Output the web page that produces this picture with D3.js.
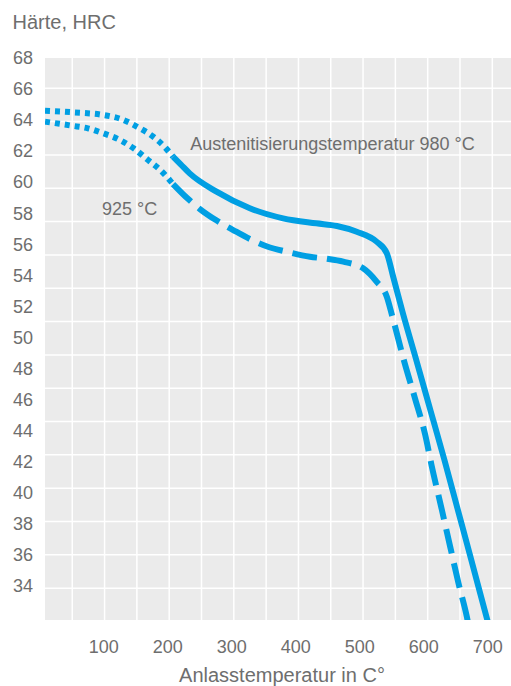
<!DOCTYPE html>
<html>
<head>
<meta charset="utf-8">
<script src="https://cdn.jsdelivr.net/npm/d3@7"></script>
<style>
  body { margin: 0; background: #fff; }
</style>
</head>
<body>
<div id="chart"></div>
<script>
// Anlasstemperatur (°C) und Härte (HRC)
const temps980 = [9, 53, 100, 129, 153, 178, 198, 209, 221, 235, 277, 329, 381, 433, 465, 496, 527, 543, 553, 568, 589, 611, 633, 654, 675, 700, 706];
const hrc980   = [64.6, 64.5, 64.33, 64.05, 63.57, 62.93, 62.18, 61.64, 61.15, 60.57, 59.39, 58.32, 57.67, 57.35, 57.18, 56.81, 56.17, 55.42, 53.9, 51.57, 48.55, 45.33, 42.11, 38.89, 35.67, 31.8, 30.9];
const temps925 = [9, 51, 76, 100, 126, 148, 170, 189, 209, 231, 251, 276, 303, 329, 356, 387, 423, 449, 475, 506, 527, 543, 551, 571, 587, 603, 613, 629, 642, 655, 668, 672];
const hrc925   = [63.9, 63.64, 63.47, 63.15, 62.72, 62.17, 61.43, 60.79, 59.88, 58.98, 58.27, 57.56, 56.92, 56.34, 55.86, 55.52, 55.2, 55.07, 54.88, 54.45, 53.59, 52.62, 51.45, 48.33, 46.08, 43.72, 41.75, 38.89, 36.52, 34.16, 32.01, 31.2];
// ab hier durchgezogen bzw. gestrichelt
const dottedUntil980 = 209;
const dottedUntil925 = 209;

const xTicks = [100, 200, 300, 400, 500, 600, 700];
const yTicks = [68, 66, 64, 62, 60, 58, 56, 54, 52, 50, 48, 46, 44, 42, 40, 38, 36, 34];

const width = 466;
const height = 562;
const margin = { top: 58, right: 0, bottom: 66, left: 45 };
const blue = "#009fe3";
const textColor = "#6e6e6e";
const font = "'Liberation Sans', Arial, sans-serif";

const svg = d3.select("#chart")
    .append("svg")
    .attr("width", width + margin.left + margin.right)
    .attr("height", height + margin.top + margin.bottom)
    .style("font-family", font);

const g = svg.append("g")
    .attr("transform", `translate(${margin.left},${margin.top})`);

const xScale = d3.scaleLinear().domain([9, 737]).range([0, width]);
const yScale = d3.scaleLinear().domain([31.8, 68]).range([height, 0]);

g.append("rect")
    .attr("width", width)
    .attr("height", height)
    .attr("fill", "#ebebeb");

// das Raster liegt nicht genau auf den Achsenwerten
const gridX = d3.range(14).map(i => 51.6 + i * (707.8 - 51.6) / 13);
const gridY = d3.range(16).map(i => 66.05 - i * (66.05 - 33.85) / 15);

g.selectAll(".vgrid")
    .data(gridX)
    .enter()
    .append("line")
    .attr("x1", d => xScale(d))
    .attr("x2", d => xScale(d))
    .attr("y1", 0)
    .attr("y2", height)
    .attr("stroke", "#fff")
    .attr("stroke-width", 1.5);

g.selectAll(".hgrid")
    .data(gridY)
    .enter()
    .append("line")
    .attr("x1", 0)
    .attr("x2", width)
    .attr("y1", d => yScale(d))
    .attr("y2", d => yScale(d))
    .attr("stroke", "#fff")
    .attr("stroke-width", 1.5);

svg.append("clipPath")
    .attr("id", "plot-clip")
    .append("rect")
    .attr("width", width)
    .attr("height", height);

const line = d3.line()
    .x(d => xScale(d[0]))
    .y(d => yScale(d[1]))
    .curve(d3.curveMonotoneX);

function drawSeries(temps, hrc, split, dash) {
    const pts = temps.map((t, i) => [t, hrc[i]]);
    const head = pts.filter(d => d[0] <= split);
    const tail = pts.filter(d => d[0] >= split);
    const lines = g.append("g").attr("clip-path", "url(#plot-clip)");
    lines.append("path")
        .attr("d", line(head))
        .attr("fill", "none")
        .attr("stroke", blue)
        .attr("stroke-width", 6)
        .attr("stroke-dasharray", "5,5");
    lines.append("path")
        .attr("d", line(tail))
        .attr("fill", "none")
        .attr("stroke", blue)
        .attr("stroke-width", 6)
        .attr("stroke-dasharray", dash);
}

drawSeries(temps925, hrc925, dottedUntil925, "25,10");
drawSeries(temps980, hrc980, dottedUntil980, null);

const xAxis = d3.axisBottom(xScale)
    .tickValues(xTicks)
    .tickSize(0)
    .tickPadding(20);

const yAxis = d3.axisLeft(yScale)
    .tickValues(yTicks)
    .tickSize(0)
    .tickPadding(12);

const xg = g.append("g")
    .attr("transform", `translate(0,${height})`)
    .call(xAxis);
xg.select(".domain").remove();
xg.selectAll("text")
    .attr("font-size", "18px")
    .attr("font-family", font)
    .attr("fill", textColor);

const yg = g.append("g").call(yAxis);
yg.select(".domain").remove();
yg.selectAll("text")
    .attr("font-size", "18px")
    .attr("font-family", font)
    .attr("fill", textColor);

svg.append("text")
    .attr("x", 12.5)
    .attr("y", 29)
    .attr("font-size", "20px")
    .attr("fill", textColor)
    .text("Härte, HRC");

svg.append("text")
    .attr("x", margin.left + width / 2 + 4)
    .attr("y", 682)
    .attr("text-anchor", "middle")
    .attr("font-size", "20px")
    .attr("fill", textColor)
    .text("Anlasstemperatur in C°");

g.append("text")
    .attr("x", xScale(236))
    .attr("y", yScale(62.07))
    .attr("font-size", "18px")
    .attr("fill", textColor)
    .text("Austenitisierungstemperatur 980 °C");

g.append("text")
    .attr("x", xScale(98))
    .attr("y", yScale(57.9))
    .attr("font-size", "18px")
    .attr("fill", textColor)
    .text("925 °C");
</script>
</body>
</html>
